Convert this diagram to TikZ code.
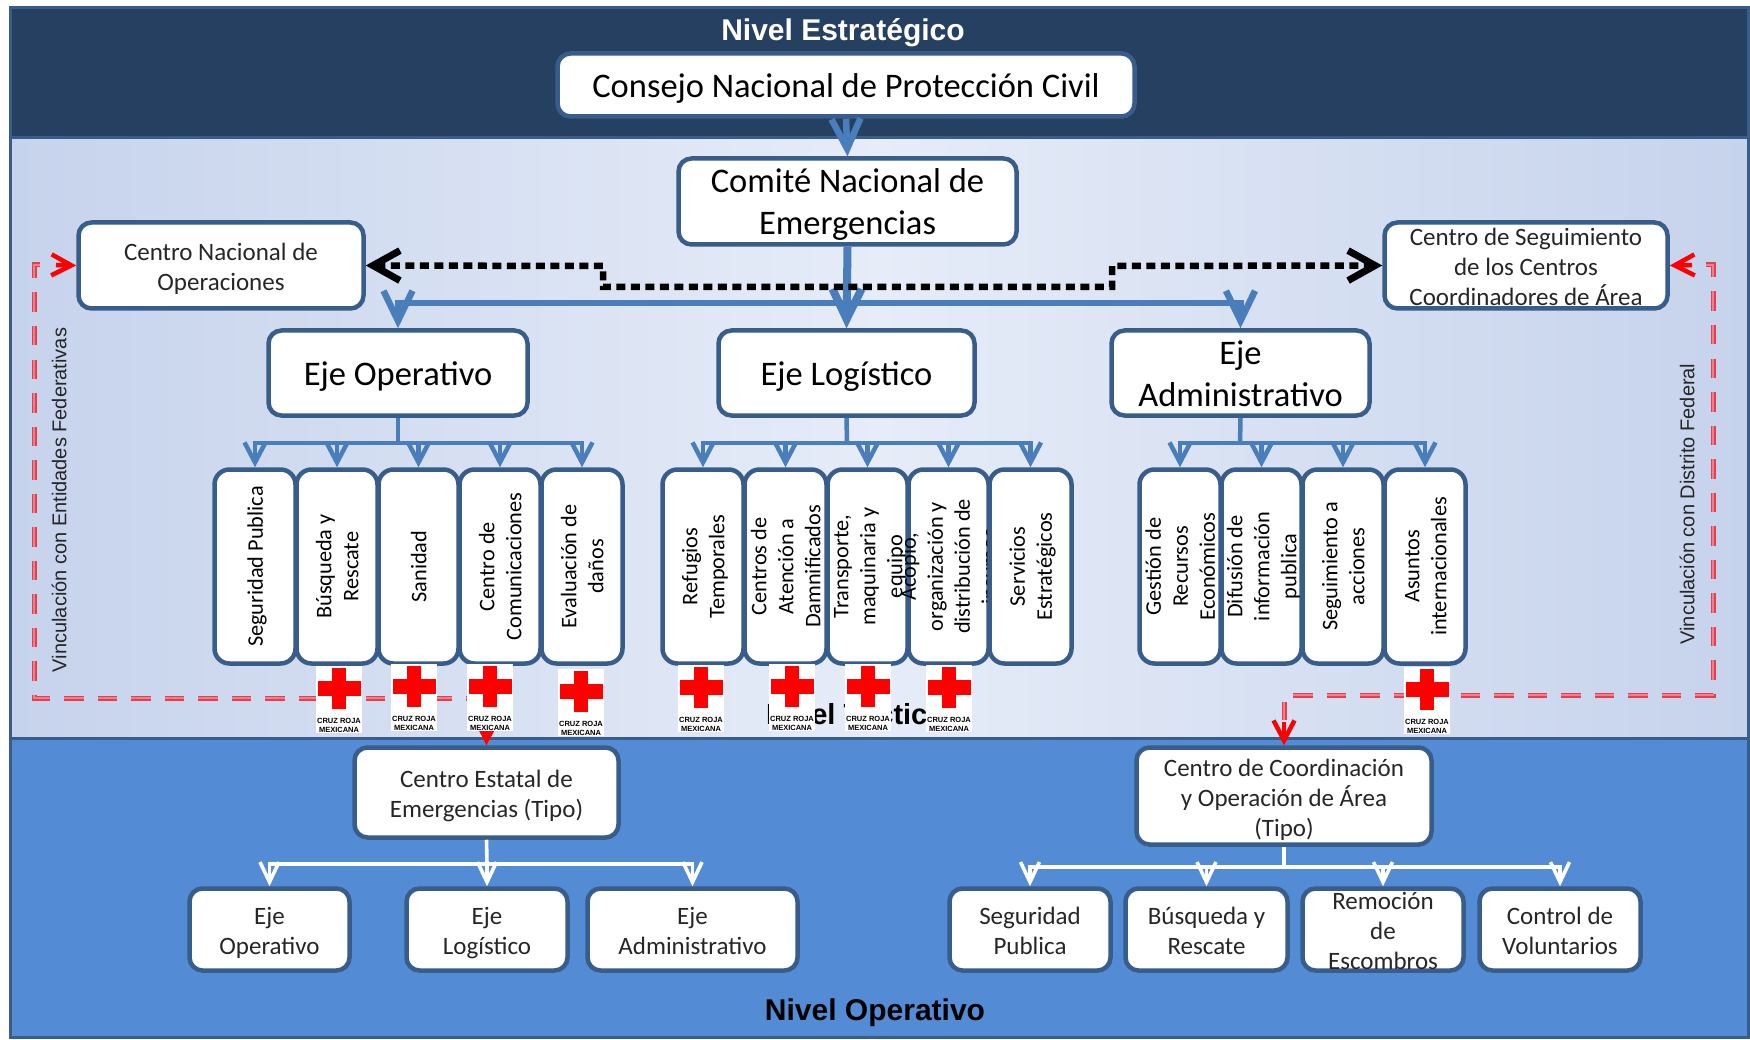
\documentclass[tikz,border=0pt]{standalone}
\usepackage{fontspec}
\usepackage{graphicx}
\usepackage{array}
\setmainfont{Carlito}
\newfontfamily\arialf{Liberation Sans}
\usetikzlibrary{arrows.meta,calc}
\definecolor{dkpanel}{HTML}{254061}
\definecolor{lowpanel}{HTML}{538CD5}
\definecolor{edgeblue}{HTML}{385D8A}
\definecolor{arrowblue}{HTML}{4A7EBB}
\definecolor{midedge}{HTML}{C6D3EC}
\definecolor{midcentre}{HTML}{E6ECF8}
\definecolor{redline}{HTML}{E63E4E}
\definecolor{redcore}{HTML}{F0808A}
\definecolor{darktxt}{HTML}{262626}
\newsavebox\tbbox
% centred text of zero size, so that it may overflow its box as in the picture
\newcommand\ctxt[3]{\sbox\tbbox{\fontsize{#1}{#2}\selectfont\begin{tabular}{@{}c@{}}#3\end{tabular}}%
  \raisebox{\dimexpr-.5\ht\tbbox+.5\dp\tbbox-4pt\relax}[0pt][0pt]{\makebox[0pt]{\usebox\tbbox}}}
\newcommand\vtxt[1]{\sbox\tbbox{\rotatebox{90}{\fontsize{22.3}{27}\selectfont\begin{tabular}{@{}c@{}}#1\end{tabular}}}%
  \raisebox{\dimexpr-.5\ht\tbbox+.5\dp\tbbox\relax}[0pt][0pt]{\makebox[0pt]{\kern5pt\usebox\tbbox}}}
\tikzset{
  panel/.style={draw=edgeblue,line width=3pt},
  boxn/.style={draw=edgeblue,fill=white,line width=4.5pt,rounded corners=13pt,inner sep=0pt,text=black},
  vboxn/.style={boxn,rounded corners=15pt},
  smalln/.style={boxn,text=darktxt},
  bigarrow/.style={draw=arrowblue,line width=6.5pt,-{Straight Barb[length=30pt,width=29pt]}},
  trunkarrow/.style={bigarrow,line width=8pt},
  subarrow/.style={draw=arrowblue,line width=4.5pt,-{Straight Barb[length=20pt,width=21pt]}},
  subline/.style={draw=arrowblue,line width=4.5pt},
  wharrow/.style={draw=white,line width=3.6pt,-{Straight Barb[length=20pt,width=19pt]}},
  whline/.style={draw=white,line width=3.6pt},
  blackdot/.style={draw=black,line width=6.5pt,dash pattern=on 9pt off 5.5pt,
     {Straight Barb[length=27pt,width=30pt,line width=7pt]}-{Straight Barb[length=27pt,width=30pt,line width=7pt]}},
  reddash/.style={draw=redline,line width=5pt,dash pattern=on 19.5pt off 14pt},
  redthin/.style={draw=redcore,line width=1.2pt,dash pattern=on 19.5pt off 14pt},
  redtip/.style={draw=red,line width=4.5pt,-{Straight Barb[length=20pt,width=21pt]}},
  crect/.style={fill=white,inner sep=0pt,minimum width=46pt,minimum height=67pt,anchor=north west},
  ctext/.style={inner sep=0pt,align=center,font=\arialf\bfseries\fontsize{7.5}{9}\selectfont,text=black},
  sidetext/.style={rotate=90,inner sep=0pt,text=darktxt,font=\arialf\fontsize{20}{24}\selectfont},
  leveltext/.style={inner sep=0pt,font=\arialf\bfseries\fontsize{30}{34}\selectfont}
}
% name, x1, y1, x2, y2, text (outer edges of the box)
\newcommand\BX[7][boxn]{%
  \pgfmathsetmacro\cxx{(#3+#5)/2}\pgfmathsetmacro\cyy{(#4+#6)/2}%
  \pgfmathsetmacro\ww{#5-#3-1}\pgfmathsetmacro\hh{#6-#4-1}%
  \node[#1,minimum width=\ww pt,minimum height=\hh pt] (#2) at (\cxx,\cyy) {#7};}
\newcommand\CRUZ[3]{%
  \begin{scope}[shift={(#2,#3)}]
    \node[crect] (#1) at (0,0) {};
    \fill[red] (16,1.5) rectangle (30,43);
    \fill[red] (1.5,14.5) rectangle (44.5,29.5);
    \node[ctext] (#1t) at (23,59.5) {CRUZ ROJA\\MEXICANA};
  \end{scope}}
\begin{document}
\begin{tikzpicture}[x=1pt,y=-1pt]
\useasboundingbox (0,0) rectangle (1750,1040);
\fill[white] (0,0) rectangle (1750,1040);
% panels
\draw[panel,fill=dkpanel] (10,8) rectangle (1748,138);
\draw[panel,left color=midedge,right color=midedge,middle color=midcentre] (10,138) rectangle (1748,738);
\draw[panel,fill=lowpanel] (10,738) rectangle (1748,1037);
\node[leveltext,text=white] (nest) at (843,33) {Nivel Estratégico};
\node[leveltext,text=black] (nope) at (875,1013) {Nivel Operativo};
\node[leveltext,text=black,anchor=west,font=\arialf\bfseries\fontsize{29}{32}\selectfont] (ntac) at (766,714) {Nivel Táctico};
\node[sidetext] (vent) at (59,500) {Vinculación con Entidades Federativas};
\node[sidetext] (vdis) at (1687,504) {Vinculación con Distrito Federal};

% coordinates of the connectors
\coordinate (busM) at (847,303);
\coordinate (dL1) at (603,266);
\coordinate (dL2) at (603,287);
\coordinate (dR2) at (1112,287);
\coordinate (dR1) at (1112,266);
\coordinate (rLa) at (40,265);
\coordinate (rLb) at (34,265);
\coordinate (rLc) at (34,698);
\coordinate (rLd) at (487,698);
\coordinate (rRa) at (1706,265);
\coordinate (rRb) at (1713,265);
\coordinate (rRc) at (1713,695);
\coordinate (rRd) at (1293,695);
\coordinate (rRs) at (1284,702);
\coordinate (rRe) at (1284,720);
\coordinate (rRf) at (1284,722);
\coordinate (rLt) at (56,265);
\coordinate (rRt) at (1692,265);

% boxes
\BX{cons}{557}{53}{1135}{117}{\ctxt{34.5}{42}{Consejo Nacional de Protección Civil}}
\BX{comi}{678}{158}{1017}{245}{\ctxt{34.5}{42}{Comité Nacional de\\Emergencias}}
\BX[smalln]{cnop}{78}{222}{364}{309}{\ctxt{25}{30}{Centro Nacional de\\Operaciones}}
\BX[smalln]{cseg}{1384}{222}{1668}{309}{\ctxt{25}{30}{Centro de Seguimiento\\de los Centros\\Coordinadores de Área}}
\BX{eope}{268}{330}{528}{416}{\ctxt{34.5}{42}{Eje Operativo}}
\BX{elog}{718}{330}{975}{416}{\ctxt{34.5}{42}{Eje Logístico}}
\BX{eadm}{1111}{330}{1370}{416}{\ctxt{34.5}{42}{Eje\\Administrativo}}

% red dashed links
\draw[reddash] (rLa) -- (rLb) -- (rLc) -- (rLd);
\draw[redthin] (rLa) -- (rLb) -- (rLc) -- (rLd);
\draw[reddash] (rRa) -- (rRb) -- (rRc) -- (rRd);
\draw[redthin] (rRa) -- (rRb) -- (rRc) -- (rRd);
\draw[reddash] (rRs) -- (rRe);
\draw[redthin] (rRs) -- (rRe);

% blue connectors of the upper tree
\draw[bigarrow] (cons.south) -- (comi.north);
\draw[trunkarrow] (comi.south) -- (elog.north);
\draw[bigarrow] (busM) -| (eope.north);
\draw[bigarrow] (busM) -| (eadm.north);
\draw[blackdot] (cnop.east) -- (dL1) -- (dL2) -- (dR2) -- (dR1) -- (cseg.west);

% vertical boxes
\BX[vboxn]{v1}{214}{469}{296}{664}{\vtxt{Seguridad Publica}}
\BX[vboxn]{v2}{296}{469}{378}{664}{\vtxt{Búsqueda y\\Rescate}}
\BX[vboxn]{v3}{378}{469}{459}{664}{\vtxt{Sanidad}}
\BX[vboxn]{v4}{459}{469}{541}{664}{\vtxt{Centro de\\Comunicaciones}}
\BX[vboxn]{v5}{541}{469}{623}{664}{\vtxt{Evaluación de\\daños}}
\BX[vboxn]{l1}{662}{469}{744}{664}{\vtxt{Refugios\\Temporales}}
\BX[vboxn]{l2}{744}{469}{827}{664}{\vtxt{Centros de\\Atención a\\Damnificados}}
\BX[vboxn]{l3}{827}{469}{908}{664}{\vtxt{Transporte,\\maquinaria y\\equipo}}
\BX[vboxn]{l4}{908}{469}{989}{664}{\vtxt{Acopio,\\organización y\\distribución de\\insumos}}
\BX[vboxn]{l5}{989}{469}{1072}{664}{\vtxt{Servicios\\Estratégicos}}
\BX[vboxn]{a1}{1139}{469}{1221}{664}{\vtxt{Gestión de\\Recursos\\Económicos}}
\BX[vboxn]{a2}{1221}{469}{1302}{664}{\vtxt{Difusión de\\información\\publica}}
\BX[vboxn]{a3}{1302}{469}{1384}{664}{\vtxt{Seguimiento a\\acciones}}
\BX[vboxn]{a4}{1384}{469}{1466}{664}{\vtxt{Asuntos\\internacionales}}

% sub branches
\coordinate (busO) at (398,443);
\coordinate (busL) at (847,443);
\coordinate (busA) at (1240,443);
\draw[subline] (eope.south) -- (busO);
\draw[subline] (elog.south) -- (busL);
\draw[subline] (eadm.south) -- (busA);
\foreach \t in {v1,v2,v3,v4,v5}{\draw[subarrow] (busO) -| (\t.north);}
\foreach \t in {l1,l2,l3,l4,l5}{\draw[subarrow] (busL) -| (\t.north);}
\foreach \t in {a1,a2,a3,a4}{\draw[subarrow] (busA) -| (\t.north);}

% lower level
\BX[smalln]{cest}{354}{747}{619}{838}{\ctxt{25}{30}{Centro Estatal de\\Emergencias (Tipo)}}
\BX[smalln]{ccoo}{1136}{747}{1432}{845}{\ctxt{25}{30}{Centro de Coordinación\\y Operación de Área\\(Tipo)}}
\BX[smalln]{le1}{189}{888}{350}{971}{\ctxt{25}{30}{Eje\\Operativo}}
\BX[smalln]{le2}{406}{888}{568}{971}{\ctxt{25}{30}{Eje\\Logístico}}
\BX[smalln]{le3}{587}{888}{798}{971}{\ctxt{25}{30}{Eje\\Administrativo}}
\BX[smalln]{lr1}{949}{888}{1111}{971}{\ctxt{25}{30}{Seguridad\\Publica}}
\BX[smalln]{lr2}{1125}{888}{1288}{971}{\ctxt{25}{30}{Búsqueda y\\Rescate}}
\BX[smalln]{lr3}{1302}{888}{1464}{971}{\ctxt{25}{30}{Remoción\\de\\Escombros}}
\BX[smalln]{lr4}{1479}{888}{1641}{971}{\ctxt{25}{30}{Control de\\Voluntarios}}
\coordinate (busE) at (487,864);
\coordinate (busC) at (1284,867);
\draw[whline] (cest.south) -- (busE);
\draw[whline] (ccoo.south) -- (busC);
\foreach \t in {le1,le2,le3}{\draw[wharrow] (busE) -| (\t.north);}
\foreach \t in {lr1,lr2,lr3,lr4}{\draw[wharrow] (busC) -| (\t.north);}

% red arrow ends
\draw[redtip] (rLt) -- (cnop.west);
\draw[redtip] (rRt) -- (cseg.east);
\draw[redtip] (rLd) -- (cest.north);
\draw[redtip] (rRf) -- (ccoo.north);

% Cruz Roja marks
\CRUZ{c1}{316}{666}
\CRUZ{c2}{391}{664}
\CRUZ{c3}{467}{664}
\CRUZ{c4}{558}{669}
\CRUZ{c5}{678}{665}
\CRUZ{c6}{769}{664}
\CRUZ{c7}{845}{664}
\CRUZ{c8}{926}{665}
\CRUZ{c9}{1404}{667}
\end{tikzpicture}
\end{document}
